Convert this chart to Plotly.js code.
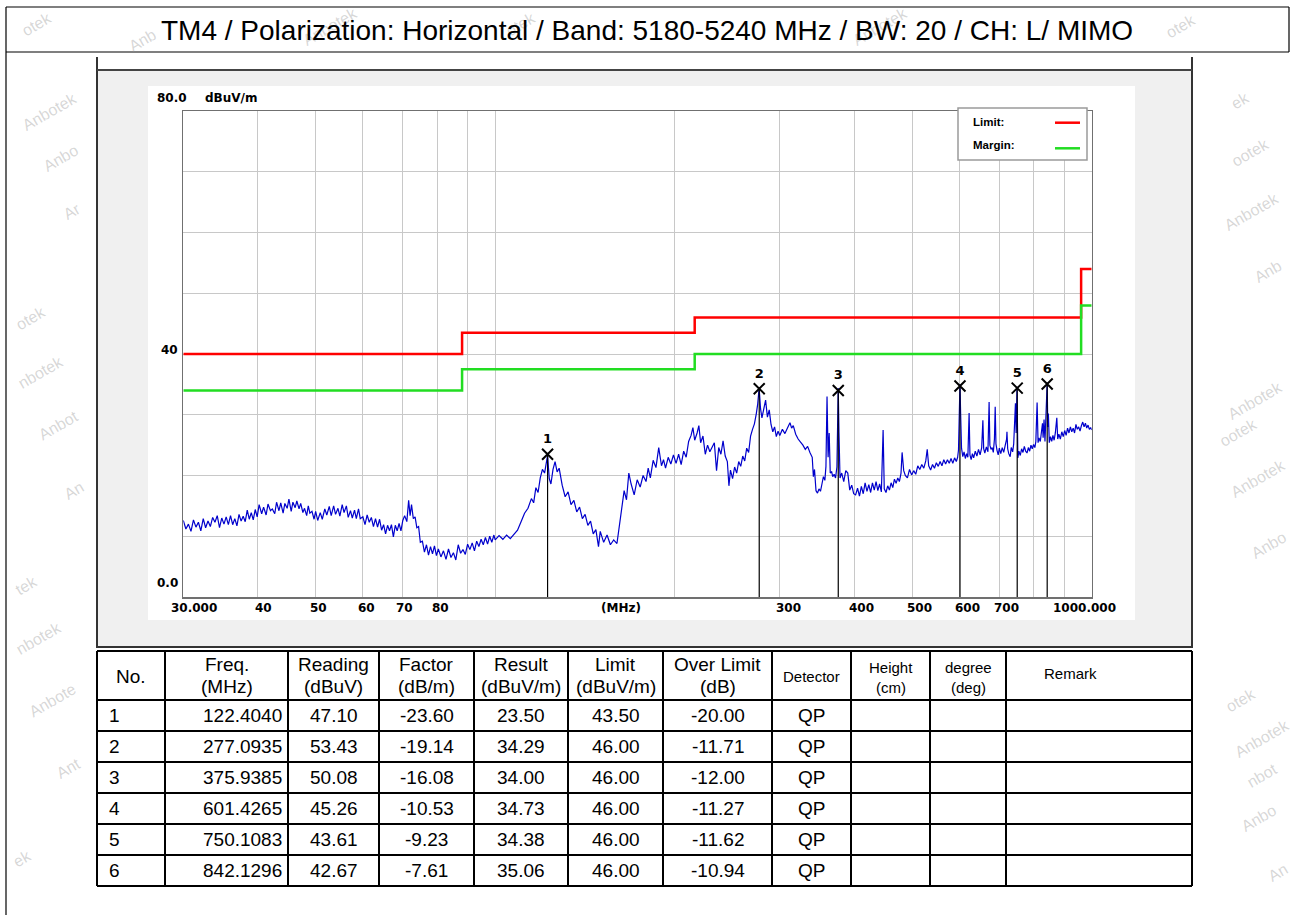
<!DOCTYPE html>
<html><head><meta charset="utf-8">
<script src="https://cdn.plot.ly/plotly-3.0.1.min.js"></script>
<style>html,body{margin:0;padding:0;background:#fff;}#chart{width:1293px;height:915px;}</style>
</head><body><div id="chart"></div>
<script>
// ---------------- data ----------------
const titleText = 'TM4 / Polarization: Horizontal / Band: 5180-5240 MHz / BW: 20 / CH: L/ MIMO';

const scanFreq = [
30.0,30.3,30.6,30.9,31.2,31.5,31.8,32.1,32.4,32.7,
33.0,33.3,33.6,33.9,34.2,34.5,34.8,35.1,35.4,35.7,
36.0,36.3,36.6,36.9,37.2,37.5,37.8,38.1,38.4,38.7,
39.0,39.3,39.6,39.9,
40.2,40.6,40.9,41.3,41.6,42.0,42.3,42.7,43.0,43.4,
43.7,44.1,44.4,44.8,45.1,45.5,45.8,46.2,46.5,46.9,
47.2,47.6,47.9,48.3,48.6,48.9,49.3,49.7,
50.0,50.4,50.9,51.3,51.8,52.2,52.7,53.1,53.6,54.0,
54.5,54.9,55.4,55.8,56.3,56.7,57.2,57.6,58.1,58.5,
59.0,59.4,
60.0,60.5,61.0,61.5,62.0,62.5,63.0,63.5,64.0,64.5,
65.0,65.5,66.0,66.5,67.0,67.5,68.0,68.5,69.0,69.5,
70.0,70.5,71.1,71.6,72.0,72.4,72.9,73.4,73.9,74.4,
74.9,75.5,76.1,76.7,77.3,77.9,78.5,79.1,79.7,
80.3,81.1,81.9,82.7,83.5,84.3,85.1,85.9,86.7,87.5,
88.3,89.1,89.9,90.7,91.5,92.3,93.1,93.9,94.7,95.5,
96.3,97.1,97.9,98.7,99.5,
100,101.5,103,104.5,106,107.5,109,110.5,112,113.5,
115,116,117,118,119,120,121,122.4,123.2,124,
125,126,127,128,129.5,131,132.5,134,135.5,137,
138.5,140,141.5,143,144.5,146,147.5,149,
150,152,154,156,158,160,161.5,163,164.5,166,
167.5,169,171,173,175,177,179,180.5,182,184,
186,188,190,191.5,193,195,197,199,
201,203,205,207,209,211,213,214.5,216,218,
219.5,221,223,225,227,229,231,233,235,237,
239,241,243,245,246.5,248,250,252,254,256,
258,260,262,264,266,268,270,272,274,275.5,
277,278.5,280,282,284,286,288,290,292,294,
296,298,
300,303,306,309,312,314,316,319,322,325,
328,331,334,337,340,341.5,343,345,347,349,
351,353,355,357,358.5,360,361.5,363,364.5,366.5,
368,370,372,374,375.9,377,378.5,381,384,387,
390,393,396,399,
402,405,408,411,414,417,420,423,426,429,
432,435,438,441,444,447,449,452,455,458,
461,464,467,470,473,476,479,481,484,487,
491,495,499,503,507,511,515,519,523,527,
530,533,537,541,545,549,553,557,561,565,
569,573,577,581,585,589,593,596,
598,599.5,601.4,603,605,608,611,614,617,620,
623,625,628,631,634,638,642,646,650,654,
657,659,662,666,670,673,675,678,681,684,
687,689,691,694,697,700,704,708,712,716,
720,721,723,726,730,733,737,740,743,745,
747,749.5,752,755,759,763,767,771,775,779,
783,787,791,795,799,
803,806,810,813,816,820,824,827,829,832,
835,838,840,842.1,844,846,849,853,857,861,
865,869,874,877,881,886,891,896,901,906,
911,916,921,926,931,936,941,946,951,956,
961,966,971,976,981,986,991,996,1000
];
const scanLevel = [
12.6,11.2,12.0,10.8,12.7,11.5,12.3,10.9,12.9,11.4,
12.5,11.6,13.1,12.3,13.4,11.4,13.0,12.0,13.2,11.9,
13.4,11.9,12.9,11.7,13.6,12.5,13.3,12.4,14.3,12.8,
13.9,12.7,14.4,13.2,
15.2,13.7,14.8,13.5,15.3,14.2,14.5,13.7,15.6,14.2,
15.5,13.8,15.4,14.6,16.1,14.1,15.6,14.7,15.8,14.5,
15.4,13.9,14.6,13.4,15.0,13.8,14.1,12.8,
14.1,12.6,13.9,12.8,14.5,13.5,14.9,13.4,15.0,13.6,
14.6,13.3,15.2,13.9,15.0,13.1,14.2,13.0,14.3,12.9,
14.5,12.9,
13.2,11.9,13.5,12.3,13.1,11.6,12.9,11.5,12.8,11.0,
11.9,10.4,11.8,10.9,11.9,9.9,11.8,10.9,12.1,10.9,
12.6,13.4,12.4,15.9,13.4,15.2,12.9,13.2,11.4,11.6,
9.0,9.2,7.4,8.6,6.9,8.3,7.1,8.4,6.8,
7.9,6.6,7.6,6.2,7.9,6.5,7.3,6.1,8.6,7.2,
7.8,7.0,8.7,7.8,8.9,7.6,9.2,8.3,9.5,8.6,
9.8,8.7,10.0,9.0,10.2,
9.4,10.1,9.5,10.2,9.6,10.4,11.0,12.4,13.8,14.6,
16.2,15.5,18.0,17.2,19.6,21.0,20.4,23.3,19.5,18.6,
21.0,22.3,20.6,21.2,18.4,16.5,17.3,15.2,15.9,14.0,
14.8,12.9,13.6,11.8,12.5,10.4,11.1,8.3,
10.8,9.0,10.2,8.6,9.4,8.8,11.6,14.2,17.5,16.0,
20.4,18.6,16.8,19.3,18.1,20.0,19.0,21.2,19.6,22.5,
21.3,24.6,21.6,22.6,21.2,23.0,21.9,23.4,
22.0,23.5,21.8,24.0,23.0,25.6,26.6,27.9,25.8,27.0,
28.2,25.4,26.5,23.5,25.0,23.9,24.8,25.4,20.8,24.6,
23.5,25.7,23.2,22.3,18.3,20.9,19.5,21.4,20.4,22.3,
21.5,23.2,22.4,24.5,23.8,26.5,27.6,28.5,30.2,31.8,
34.4,31.0,29.5,31.2,32.4,29.6,30.8,28.4,27.2,28.0,
26.4,27.3,
26.6,27.6,26.9,27.8,28.7,27.8,28.2,26.8,26.0,25.5,
25.0,24.3,24.8,23.8,23.0,19.8,21.0,17.5,17.1,17.8,
17.4,18.6,19.8,19.2,21.5,33.0,23.0,27.0,20.4,20.6,
19.8,20.2,19.6,21.4,34.4,27.0,19.6,20.4,19.0,20.8,
20.4,17.6,18.4,17.0,
16.8,17.9,16.6,18.2,17.0,18.8,17.4,18.5,17.2,18.8,
17.6,19.0,17.5,18.6,17.3,27.5,17.8,17.2,18.3,17.6,
18.8,18.0,19.4,18.7,19.6,19.0,20.4,23.8,20.8,20.0,
19.6,21.0,20.1,20.8,20.2,21.6,21.0,21.8,21.2,22.4,
24.3,21.6,20.9,21.8,21.2,22.1,21.5,22.3,21.6,22.6,
21.9,22.6,22.0,22.8,22.0,22.9,22.3,23.0,
24.2,29.0,35.0,30.0,24.5,23.1,23.9,22.8,23.6,23.0,
30.3,23.4,22.6,23.6,22.9,24.0,23.2,24.3,23.4,24.6,
29.1,24.4,23.7,24.7,23.9,32.1,25.0,24.3,24.6,23.8,
26.0,31.3,25.2,24.1,23.4,24.5,23.6,24.6,23.8,24.9,
26.0,27.2,24.4,23.6,23.1,24.6,23.9,25.2,30.3,31.9,
27.0,34.6,22.9,24.0,23.3,24.4,23.8,24.8,24.0,23.7,
24.6,24.0,25.0,24.4,25.1,
24.6,25.6,32.0,25.4,26.2,25.6,27.0,28.6,26.2,29.2,
25.6,31.0,33.0,35.3,28.0,30.2,25.4,26.4,25.6,26.6,
25.8,27.0,29.5,26.0,26.8,26.0,27.2,26.4,27.4,26.6,
27.8,27.0,28.0,27.2,27.8,27.0,28.4,27.6,28.0,27.3,
28.2,28.8,28.0,28.6,27.8,28.3,27.6,27.9,27.5
];

// limit / margin lines (step)
const limitFreq   = [30, 88, 216, 960, 1000];
const limitLevel  = [40, 43.5, 46, 54, 54];
const marginLevel = [34, 37.5, 40, 48, 48];

// peak table
const peakNo     = [1, 2, 3, 4, 5, 6];
const peakFreq   = [122.4040, 277.0935, 375.9385, 601.4265, 750.1083, 842.1296];
const peakRead   = [47.10, 53.43, 50.08, 45.26, 43.61, 42.67];
const peakFactor = [-23.60, -19.14, -16.08, -10.53, -9.23, -7.61];
const peakResult = [23.50, 34.29, 34.00, 34.73, 34.38, 35.06];
const peakLimit  = [43.50, 46.00, 46.00, 46.00, 46.00, 46.00];
const peakOver   = [-20.00, -11.71, -12.00, -11.27, -11.62, -10.94];
const peakDet    = ['QP', 'QP', 'QP', 'QP', 'QP', 'QP'];

const tableHeaders = ['No.', 'Freq.<br>(MHz)', 'Reading<br>(dBuV)', 'Factor<br>(dB/m)', 'Result<br>(dBuV/m)',
  'Limit<br>(dBuV/m)', 'Over Limit<br>(dB)', 'Detector', 'Height<br>(cm)', 'degree<br>(deg)', 'Remark'];

const gridFreq = [40, 50, 60, 70, 80, 90, 100, 200, 300, 400, 500, 600, 700, 800, 900];
const gridLevel = [10, 20, 30, 40, 50, 60, 70];
const xTickVals = [30, 40, 50, 60, 70, 80, 300, 400, 500, 600, 700, 1000];
const xTickText = ['30.000', '40', '50', '60', '70', '80', '300', '400', '500', '600', '700', '1000.000'];

// ---------------- layout helpers ----------------
const W = 1293, H = 915;
const PX = x => x / W;
const PY = y => 1 - y / H;
const plotL = 183.3, plotR = 1091.7, plotT = 111, plotB = 597;

const axFont = {family: 'DejaVu Sans, sans-serif', size: 12, color: '#000', weight: 'bold'};
const tblFont = {family: 'Liberation Sans, Arial, sans-serif', size: 19, color: '#000'};

const shapes = [];
const annotations = [];
function line(x0, y0, x1, y1, color, width, layer) {
  shapes.push({type: 'line', xref: 'paper', yref: 'paper', x0: PX(x0), y0: PY(y0), x1: PX(x1), y1: PY(y1),
    line: {color: color, width: width}, layer: layer || 'above'});
}
function rect(x0, y0, x1, y1, fill, lc, lw, layer) {
  shapes.push({type: 'rect', xref: 'paper', yref: 'paper', x0: PX(x0), y0: PY(y0), x1: PX(x1), y1: PY(y1),
    fillcolor: fill, line: {color: lc || 'rgba(0,0,0,0)', width: lw || 0}, layer: layer || 'below'});
}
function txt(t, x, y, font, xa, ya, extra) {
  annotations.push(Object.assign({text: t, xref: 'paper', yref: 'paper', x: PX(x), y: PY(y), showarrow: false,
    font: font, xanchor: xa || 'center', yanchor: ya || 'middle'}, extra || {}));
}

// watermarks
const wmText = ['otek','Anbotek','Anbo','Ar','otek','nbotek','Anbot','An','tek','nbotek','Anbote','Ant','ek',
  'ek','ootek','Anbotek','Anb','Anbotek','ootek','Anbotek','Anbo','otek','Anbotek','nbot','Anbo','An',
  'Anb','otek','Anbotek','otek','Anbotek'];
const wmPos = [[36,24],[50,112],[60,158],[72,212],[30,318],[40,372],[58,425],[74,490],[26,585],[38,638],[52,700],[68,768],[22,858],
  [1240,100],[1250,152],[1252,212],[1268,272],[1255,400],[1238,432],[1258,478],[1268,545],[1240,700],[1262,738],[1262,775],[1258,818],[1278,872],
  [142,40],[1180,26],[330,26],[520,24],[880,26]];
wmText.forEach((t, i) => txt(t, wmPos[i][0], wmPos[i][1],
  {family: 'Liberation Sans, Arial, sans-serif', size: 16, color: 'rgba(150,150,150,0.38)'}, 'center', 'middle', {textangle: -30}));

// page frame and title box
line(6, 7, 1289, 7, '#000', 1.2);
line(6, 52, 1289, 52, '#000', 1.2);
line(1289, 7, 1289, 52, '#000', 1.2);
line(6, 7, 6, 915, '#000', 1.2);
txt(titleText, 647, 30, {family: 'Liberation Sans, Arial, sans-serif', size: 28, color: '#000'});

// gray panel
rect(97, 70, 1192, 647, '#f0f0f0');
rect(148, 86, 1135, 620, '#ffffff');
line(97, 57, 97, 648, '#333', 2);
line(1192, 57, 1192, 648, '#333', 2);
line(97, 70, 1192, 70, '#444', 2);
line(97, 647, 1192, 647, '#333', 2);

// legend box
rect(958, 108, 1087, 160, '#ffffff', '#9a9a9a', 1.5, 'above');
line(1055, 122.7, 1080, 122.7, '#ff0000', 2.5);
line(1055, 148.3, 1080, 148.3, '#22dd22', 2.5);
const legFont = {family: 'Liberation Sans, Arial, sans-serif', size: 11.5, color: '#000', weight: 'bold'};
txt('Limit:', 971, 121.7, legFont, 'left');
txt('Margin:', 971, 145, legFont, 'left');

// axis labels
txt('80.0', 171.7, 97.5, axFont);
txt('dBuV/m', 231, 97.5, axFont);
txt('(MHz)', 621, 608, axFont);
annotations.push({text: '40', xref: 'paper', yref: 'y', x: PX(179.5), y: 40, yshift: 4, showarrow: false, font: axFont, xanchor: 'right', yanchor: 'middle'});
annotations.push({text: '0.0', xref: 'paper', yref: 'y', x: PX(179.5), y: 0, yshift: 14.5, showarrow: false, font: axFont, xanchor: 'right', yanchor: 'middle'});
const tickShift = [11, 6, 3, 4, 2, 3, 9, 7, 7, 8, 7, -7];
xTickVals.forEach((v, i) => annotations.push({text: xTickText[i], xref: 'x', yref: 'paper', x: Math.log10(v), y: PY(608),
  xshift: tickShift[i], showarrow: false, font: axFont, xanchor: 'center', yanchor: 'middle'}));

// table
const colX = [97, 165, 288, 379, 474, 568, 663, 772, 851, 930, 1006, 1192];
const rowY = [651, 700, 731, 762, 793, 824, 855, 886];
rowY.forEach(y => line(97, y, 1192, y, '#000', 2));
colX.forEach(x => line(x, 651, x, 886, '#000', 2));
const hdrSize = [19,19,19,19,19,19,19,15,15,15,15];
tableHeaders.forEach((h, i) => {
  const f = Object.assign({}, tblFont, {size: hdrSize[i]});
  const parts = h.split('<br>');
  const cx = (colX[i] + colX[i + 1]) / 2;
  if (i === 10) { txt(parts[0], colX[i] + 36, 673, f, 'left'); return; }
  if (parts.length === 1) { txt(parts[0], cx, 676, f); return; }
  const y1 = hdrSize[i] > 16 ? 664 : 667, y2 = hdrSize[i] > 16 ? 686.5 : 687;
  txt(parts[0], cx, y1, f);
  txt(parts[1], cx, y2, f);
});
peakNo.forEach((n, r) => {
  const yc = (rowY[r + 1] + rowY[r + 2]) / 2;
  txt(String(n), colX[0] + 10, yc, tblFont, 'left');
  txt(peakFreq[r].toFixed(4), colX[2] - 4, yc, tblFont, 'right');
  const vals = [peakRead[r].toFixed(2), peakFactor[r].toFixed(2), peakResult[r].toFixed(2),
                peakLimit[r].toFixed(2), peakOver[r].toFixed(2), peakDet[r]];
  vals.forEach((v, k) => txt(v, (colX[k + 2] + colX[k + 3]) / 2, yc, tblFont));
});

// ---------------- traces ----------------
const vx = [], vy = [];
peakFreq.forEach((f, i) => { vx.push(f, f, null); vy.push(0, peakResult[i], null); });

const traces = [
  {x: limitFreq, y: limitLevel, mode: 'lines', line: {color: '#ff0000', width: 2.5, shape: 'hv'}, hoverinfo: 'skip'},
  {x: limitFreq, y: marginLevel, mode: 'lines', line: {color: '#22dd22', width: 2.5, shape: 'hv'}, hoverinfo: 'skip'},
  {x: scanFreq, y: scanLevel, mode: 'lines', line: {color: '#0000cc', width: 1.2}, hoverinfo: 'skip'},
  {x: vx, y: vy, mode: 'lines', line: {color: '#000', width: 1.2}, hoverinfo: 'skip', connectgaps: false},
  {x: peakFreq, y: peakResult, mode: 'markers+text', text: peakNo.map(String), textposition: 'top center',
   textfont: {family: 'DejaVu Sans, sans-serif', size: 13, color: '#000', weight: 'bold'},
   marker: {symbol: 'x-thin', size: 11, color: '#000', line: {color: '#000', width: 2}}, cliponaxis: false, hoverinfo: 'skip'}
];

const layout = {
  width: W, height: H, margin: {l: 0, r: 0, t: 0, b: 0},
  paper_bgcolor: '#ffffff', plot_bgcolor: 'rgba(0,0,0,0)', showlegend: false,
  xaxis: {type: 'log', range: [Math.log10(30), 3], domain: [PX(plotL), PX(plotR)], tickvals: gridFreq,
    showticklabels: false, ticks: '', showgrid: true, gridcolor: '#c8c8c8', gridwidth: 1,
    showline: true, linecolor: '#707070', linewidth: 1.5, mirror: true, zeroline: false, fixedrange: true},
  yaxis: {range: [0, 80], domain: [PY(plotB), PY(plotT)], tickvals: gridLevel, showticklabels: false, ticks: '',
    showgrid: true, gridcolor: '#c8c8c8', gridwidth: 1, showline: true, linecolor: '#707070', linewidth: 1.5,
    mirror: true, zeroline: false, fixedrange: true},
  shapes: shapes, annotations: annotations
};

Plotly.newPlot('chart', traces, layout, {staticPlot: true, displayModeBar: false});
</script></body></html>
